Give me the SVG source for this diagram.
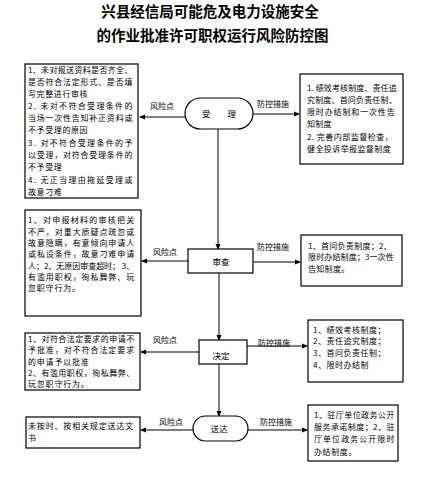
<svg xmlns="http://www.w3.org/2000/svg" width="431" height="494" viewBox="0 0 431 494">
<defs>
<marker id="ah" markerWidth="6" markerHeight="6" refX="5" refY="3" orient="auto" markerUnits="userSpaceOnUse">
<path d="M0,0.5 L6,3 L0,5.5 Z" fill="#000"/>
</marker>
<style>
.t{font-family:"Noto Sans CJK SC","Noto Sans",sans-serif;font-size:14.5px;font-weight:bold;fill:#000;text-anchor:middle}
.s{font-family:"Noto Sans CJK SC","Noto Sans",sans-serif;font-size:8px;fill:#000}
.n{font-family:"Noto Sans CJK SC","Noto Sans",sans-serif;font-size:8.5px;fill:#000;text-anchor:middle}
.b{fill:#fff;stroke:#000;stroke-width:1.2}
.c{fill:none;stroke:#000;stroke-width:1}
</style>
</defs>
<rect width="431" height="494" fill="#fff"/>
<g id="title">
<text class="t" x="210" y="17">兴县经信局可能危及电力设施安全</text>
<text class="t" x="212.5" y="41">的作业批准许可职权运行风险防控图</text>
</g>
<g id="connectors">
<line class="c" x1="185" y1="117" x2="140" y2="117" marker-end="url(#ah)"/>
<line class="c" x1="253" y1="114" x2="299" y2="114" marker-end="url(#ah)"/>
<line class="c" x1="218" y1="129" x2="218" y2="249" marker-end="url(#ah)"/>
<line class="c" x1="188" y1="261" x2="142" y2="261" marker-end="url(#ah)"/>
<line class="c" x1="253" y1="262" x2="300" y2="262" marker-end="url(#ah)"/>
<line class="c" x1="219" y1="273" x2="219" y2="340" marker-end="url(#ah)"/>
<line class="c" x1="199" y1="352" x2="141" y2="352" marker-end="url(#ah)"/>
<line class="c" x1="247" y1="346" x2="307" y2="346" marker-end="url(#ah)"/>
<line class="c" x1="219" y1="364" x2="219" y2="416" marker-end="url(#ah)"/>
<line class="c" x1="193" y1="430" x2="141" y2="430" marker-end="url(#ah)"/>
<line class="c" x1="248" y1="430" x2="307" y2="430" marker-end="url(#ah)"/>
<text class="s" x="150" y="109">风险点</text>
<text class="s" x="257" y="107">防控措施</text>
<text class="s" x="153" y="255">风险点</text>
<text class="s" x="257" y="250">防控措施</text>
<text class="s" x="153" y="343">风险点</text>
<text class="s" x="258" y="346">防控措施</text>
<text class="s" x="159" y="425">风险点</text>
<text class="s" x="260" y="425">防控措施</text>
</g>
<g id="node-shouli">
<rect class="b" x="185" y="98" width="68" height="31" rx="15.5"/>
<text class="n" x="219" y="116.5">受　　理</text>
</g>
<g id="node-shencha">
<rect class="b" x="188" y="249" width="65" height="24"/>
<text class="n" x="221" y="264.5">审查</text>
</g>
<g id="node-jueding">
<rect class="b" x="199" y="340" width="48" height="24"/>
<text class="n" x="221" y="358.5">决定</text>
</g>
<g id="node-songda">
<rect class="b" x="193" y="416" width="55" height="25" rx="12.5"/>
<text class="n" x="219" y="431.5">送达</text>
</g>
<g id="risk1">
<rect class="b" x="25" y="64" width="113" height="134"/>
<g class="s" style="letter-spacing:0.6px">
<text x="28" y="73" textLength="105" lengthAdjust="spacing">1、未对报送资料是否齐全、</text>
<text x="28" y="85" textLength="105" lengthAdjust="spacing">是否符合法定形式、是否填</text>
<text x="28" y="97">写完整进行审核</text>
<text x="28" y="109" textLength="105" lengthAdjust="spacing">2. 未对不符合受理条件的</text>
<text x="28" y="121" textLength="105" lengthAdjust="spacing">当场一次性告知补正资料或</text>
<text x="28" y="133">不予受理的原因</text>
<text x="28" y="146" textLength="105" lengthAdjust="spacing">3. 对不符合受理条件的予</text>
<text x="28" y="158" textLength="105" lengthAdjust="spacing">以受理，对符合受理条件的</text>
<text x="28" y="170">不予受理</text>
<text x="28" y="183" textLength="105" lengthAdjust="spacing">4. 无正当理由拖延受理或</text>
<text x="28" y="195">故意刁难</text>
</g>
</g>
<g id="measure1">
<rect class="b" x="300" y="74" width="103" height="90"/>
<g class="s" style="letter-spacing:0.3px">
<text x="307" y="91" textLength="90" lengthAdjust="spacing">1. 绩效考核制度、责任追</text>
<text x="307" y="103" textLength="90" lengthAdjust="spacing">究制度、首问负责任制、</text>
<text x="307" y="115" textLength="88" lengthAdjust="spacing">限时办结制和一次性告</text>
<text x="307" y="127">知制度</text>
<text x="307" y="140" textLength="86" lengthAdjust="spacing">2. 完善内部监督检查，</text>
<text x="307" y="152" textLength="84" lengthAdjust="spacing">健全投诉举报监督制度</text>
</g>
</g>
<g id="risk2">
<rect class="b" x="25" y="210" width="116" height="106"/>
<g class="s" style="letter-spacing:0.8px">
<text x="28" y="223" textLength="107" lengthAdjust="spacing">1、对申报材料的审核把关</text>
<text x="28" y="235" textLength="107" lengthAdjust="spacing">不严，对重大质疑点疏忽或</text>
<text x="28" y="246" textLength="107" lengthAdjust="spacing">故意隐瞒，有意倾向申请人</text>
<text x="28" y="257" textLength="107" lengthAdjust="spacing">或私设条件，故意刁难申请</text>
<text x="28" y="269" textLength="107" lengthAdjust="spacing">人；2、无原因审查超时； 3、</text>
<text x="28" y="280" textLength="107" lengthAdjust="spacing">有滥用职权，徇私舞弊、玩</text>
<text x="28" y="291">忽职守行为。</text>
</g>
</g>
<g id="measure2">
<rect class="b" x="301" y="235" width="101" height="51"/>
<g class="s" style="letter-spacing:0.3px">
<text x="308" y="249" textLength="84" lengthAdjust="spacing">1、首问负责制度；2、</text>
<text x="308" y="260" textLength="86" lengthAdjust="spacing">限时办结制度；3一次性</text>
<text x="308" y="272">告知制度。</text>
</g>
</g>
<g id="risk3">
<rect class="b" x="25" y="333" width="115" height="57"/>
<g class="s" style="letter-spacing:0.8px">
<text x="28" y="342" textLength="107" lengthAdjust="spacing">1、对符合法定要求的申请不</text>
<text x="28" y="353" textLength="107" lengthAdjust="spacing">予批准，对不符合法定要求</text>
<text x="28" y="365">的申请予以批准</text>
<text x="28" y="376" textLength="107" lengthAdjust="spacing">2、有滥用职权，徇私舞弊、</text>
<text x="28" y="387">玩忽职守行为。</text>
</g>
</g>
<g id="measure3">
<rect class="b" x="308" y="320" width="95" height="62"/>
<g class="s" style="letter-spacing:0.5px">
<text x="313" y="333">1、绩效考核制度；</text>
<text x="313" y="344">2、责任追究制度；</text>
<text x="313" y="356">3、首问负责任制；</text>
<text x="313" y="368">4、限时办结制</text>
</g>
</g>
<g id="risk4">
<rect class="b" x="26" y="417" width="114" height="31"/>
<g class="s" style="letter-spacing:0.8px">
<text x="28" y="429" textLength="106" lengthAdjust="spacing">未按时、按相关规定送达文</text>
<text x="28" y="441">书</text>
</g>
</g>
<g id="measure4">
<rect class="b" x="308" y="405" width="90" height="56"/>
<g class="s" style="letter-spacing:0.6px">
<text x="314" y="418" textLength="81" lengthAdjust="spacing">1、驻厅单位政务公开</text>
<text x="314" y="430" textLength="81" lengthAdjust="spacing">服务承诺制度；2、驻</text>
<text x="314" y="442" textLength="81" lengthAdjust="spacing">厅单位政务公开限时</text>
<text x="314" y="455">办结制度。</text>
</g>
</g>
</svg>
